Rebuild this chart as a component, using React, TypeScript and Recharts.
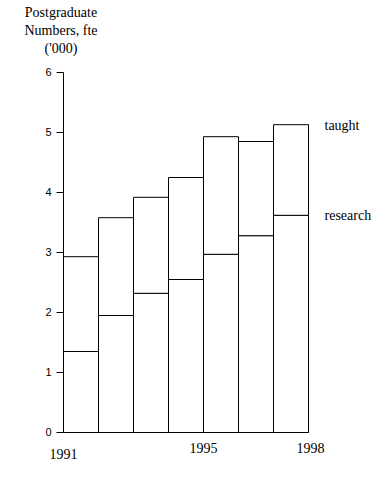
import { BarChart, Bar, XAxis, YAxis, LabelList } from 'recharts';

// each bar spans one year, from boundaryYears[i] to boundaryYears[i + 1]
const boundaryYears = [1991, 1992, 1993, 1994, 1995, 1996, 1997, 1998];
const labelledYears = [1991, 1995, 1998];
const research = [1.35, 1.95, 2.32, 2.55, 2.97, 3.28, 3.62];
const taught = [1.58, 1.63, 1.6, 1.7, 1.96, 1.57, 1.51];
const yTicks = [0, 1, 2, 3, 4, 5, 6];

const data = research.map((r, i) => ({ period: String(boundaryYears[i]), research: r, taught: taught[i] }));

const CHART_W = 390;
const CHART_H = 480;
const Y_AXIS_W = 63.5;
const X_AXIS_H = 47.5;
const MARGIN = { top: 72.5, right: 81.5, bottom: 0, left: 0 };
const BAND = (CHART_W - Y_AXIS_W - MARGIN.left - MARGIN.right) / data.length;

const serif = '"Liberation Serif", "Times New Roman", serif';

// series name written to the right of the last bar, level with its top edge
const endLabel = (name: string) => (props: any) => {
    const { x, y, width, index } = props;
    if (index !== data.length - 1) return null;
    return (
        <text x={x + width + 16} y={y + 5} fontFamily={serif} fontSize={14} fill="#000">
            {name}
        </text>
    );
};

// year labels sit on the bar edges, not the bar centres
const YearTick = (props: any) => {
    const { x, y, payload } = props;
    const index = boundaryYears.indexOf(Number(payload.value));
    const out: any[] = [];
    const start = boundaryYears[index];
    if (labelledYears.includes(start)) {
        out.push(
            <text key="l" x={x - BAND / 2} y={y + (index === 0 ? 26 : 20)} textAnchor="middle" fontFamily={serif} fontSize={14} fill="#000">
                {start}
            </text>
        );
    }
    const end = boundaryYears[index + 1];
    if (index === data.length - 1 && labelledYears.includes(end)) {
        out.push(
            <text key="r" x={x + BAND / 2 + 2} y={y + 20} textAnchor="middle" fontFamily={serif} fontSize={14} fill="#000">
                {end}
            </text>
        );
    }
    return <g>{out}</g>;
};

export default function App() {
    return (
        <div style={{ position: 'absolute', left: 0, top: 0, width: CHART_W, height: CHART_H, background: '#fff' }}>
            <div
                style={{
                    position: 'absolute',
                    left: 11,
                    top: 4,
                    width: 100,
                    textAlign: 'center',
                    fontFamily: serif,
                    fontSize: 14,
                    lineHeight: '18px',
                    color: '#000',
                }}
            >
                Postgraduate
                <br />
                Numbers, fte
                <br />
                ('000)
            </div>
            <BarChart width={CHART_W} height={CHART_H} data={data} barCategoryGap={0} margin={MARGIN}>
                <XAxis
                    dataKey="period"
                    interval={0}
                    height={X_AXIS_H}
                    tickLine={false}
                    tickSize={0}
                    tickMargin={0}
                    axisLine={{ stroke: '#000' }}
                    tick={<YearTick />}
                />
                <YAxis
                    width={Y_AXIS_W}
                    domain={[0, 6]}
                    ticks={yTicks}
                    interval={0}
                    tickSize={7}
                    tickMargin={5}
                    axisLine={{ stroke: '#000' }}
                    tickLine={{ stroke: '#000' }}
                    tick={{ fill: '#000', fontSize: 11, fontFamily: '"Liberation Sans", Arial, sans-serif' }}
                />
                <Bar dataKey="research" stackId="a" fill="#fff" stroke="#000" strokeWidth={1} isAnimationActive={false}>
                    <LabelList dataKey="research" content={endLabel('research')} />
                </Bar>
                <Bar dataKey="taught" stackId="a" fill="#fff" stroke="#000" strokeWidth={1} isAnimationActive={false}>
                    <LabelList dataKey="taught" content={endLabel('taught')} />
                </Bar>
            </BarChart>
        </div>
    );
}
